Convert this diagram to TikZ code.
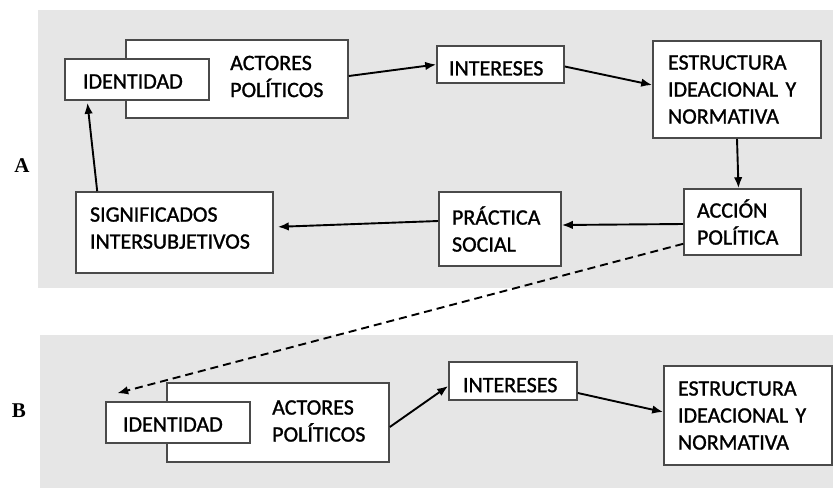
\documentclass[tikz,border=0pt]{standalone}
\usepackage{fontspec}
\setmainfont{Carlito}[RawFeature={embolden=1.2}]
\newfontfamily\labfont{Liberation Serif}
\usetikzlibrary{calc,arrows.meta}
\definecolor{panelgray}{HTML}{E6E6E6}
\definecolor{boxline}{HTML}{4A4A4A}
\newcommand{\boxfont}{\fontsize{22}{27}\selectfont}
\tikzset{
  panel/.style={fill=panelgray, draw=none},
  box/.style={draw=boxline, fill=white, line width=1.6pt, inner ysep=0pt, align=left, font=\boxfont},
  txt/.style={inner sep=0pt, align=left, font=\boxfont},
  conn/.style={line width=1.9pt, -{Latex[length=11pt,width=8.5pt]}},
  dconn/.style={conn, dash pattern=on 8pt off 5pt},
  panellabel/.style={inner sep=0pt, font=\labfont\bfseries\fontsize{21}{24}\selectfont}
}
\begin{document}
\begin{tikzpicture}[x=1pt,y=-1pt]
\useasboundingbox (0,0) rectangle (833,488);
\fill[white] (0,0) rectangle (833,488);
% panels
\fill[panel] (38,10) rectangle (833,288);
\fill[panel] (40,335) rectangle (833,488);
\node[panellabel] (labA) at (22,166) {A};
\node[panellabel] (labB) at (19,411) {B};

% ---------- Panel A ----------
\node[box, minimum width=222pt, minimum height=78pt] (actA) at (237,79) {};
\node[txt, anchor=west] (actAtxt) at (230,76.5) {ACTORES\\POLÍTICOS};
\node[box, minimum height=41pt, inner xsep=18pt, text width=108pt, text height=18pt] (idA) at (137,79.5) {IDENTIDAD};
\node[box, minimum height=37pt, inner xsep=12pt, text width=103pt, text height=22pt] (intA) at (500.5,64.5) {INTERESES};
\node[box, minimum height=97pt, inner xsep=15pt, text width=138pt] (estA) at (737,89.5) {ESTRUCTURA\\IDEACIONAL Y\\NORMATIVA};
\node[box, minimum height=66pt, inner xsep=13pt, text width=91pt] (accA) at (742.5,222) {ACCIÓN\\POLÍTICA};
\node[box, minimum height=74pt, inner xsep=13pt, text width=96pt] (praA) at (500,229) {PRÁCTICA\\SOCIAL};
\node[box, minimum height=81pt, inner xsep=14pt, text width=169pt, text depth=36pt] (sigA) at (174.5,232.5) {SIGNIFICADOS\\INTERSUBJETIVOS};

\draw[conn] ([yshift=3pt]actA.east) -- (intA.west);
\draw[conn] ([yshift=-2pt]intA.east) -- ([yshift=4.5pt]estA.west);
\draw[conn] (estA.south) -- ([xshift=-4pt]accA.north);
\draw[conn] ([yshift=-2pt]accA.west) -- ([yshift=4pt]praA.east);
\draw[conn, shorten >=4pt] ([yshift=8pt]praA.west) -- ([yshift=5.5pt]sigA.east);
\draw[conn, shorten >=2pt] ($(sigA.north west)+(22,0)$) -- ($(idA.south west)+(23,0)$);

% ---------- Panel B ----------
\node[box, minimum width=222pt, minimum height=79pt] (actB) at (278,422.5) {};
\node[txt, anchor=west] (actBtxt) at (272,421) {ACTORES\\POLÍTICOS};
\node[box, minimum height=41pt, inner xsep=17pt, text width=110pt, text height=18pt] (idB) at (178,422.5) {IDENTIDAD};
\node[box, minimum height=38pt, inner xsep=14pt, text width=100pt, text height=22.5pt] (intB) at (513,381) {INTERESES};
\node[box, minimum height=99pt, inner xsep=14pt, text width=140pt] (estB) at (748,415.5) {ESTRUCTURA\\IDEACIONAL Y\\NORMATIVA};

\draw[conn] ([yshift=-4.5pt]actB.east) -- ([yshift=-5pt]intB.west);
\draw[conn] ([yshift=-12pt]intB.east) -- ([yshift=3.5pt]estB.west);

% dashed link from A to B
\draw[dconn] ($(accA.south west)+(0,-12)$) -- ($(idB.north west)+(12,-8)$);
\end{tikzpicture}
\end{document}
